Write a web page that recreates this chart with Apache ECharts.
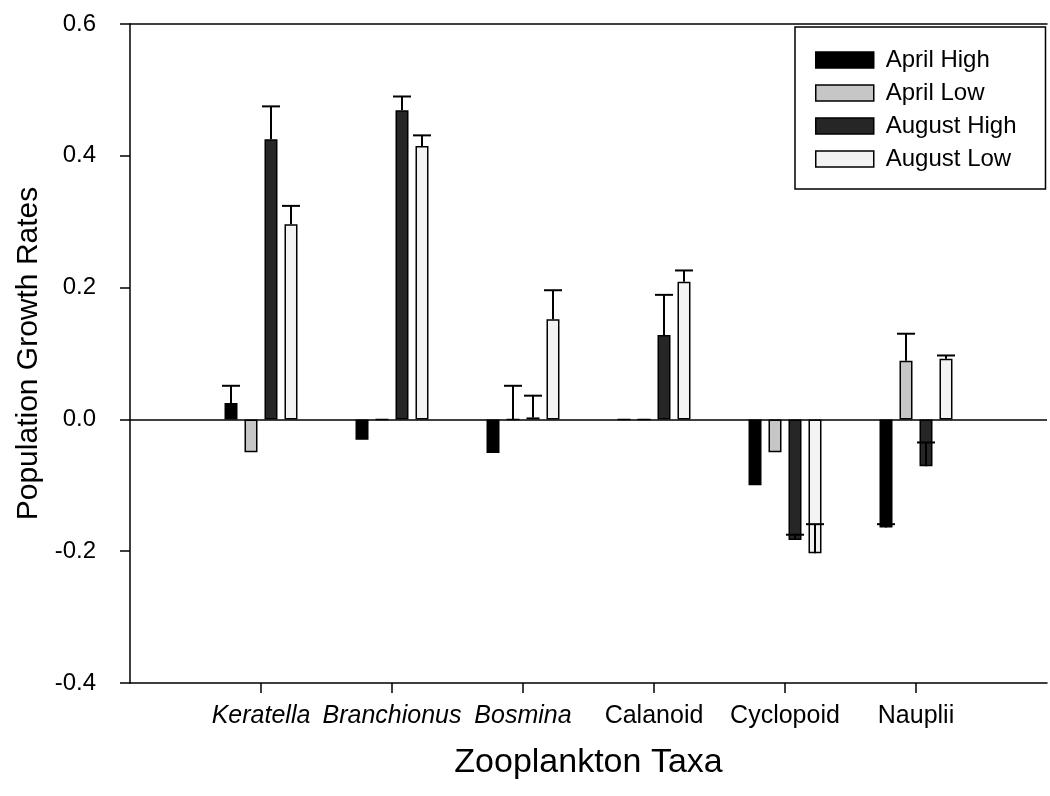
<!DOCTYPE html>
<html><head><meta charset="utf-8">
<script src="https://cdn.jsdelivr.net/npm/echarts@6/dist/echarts.min.js"></script>
<style>html,body{margin:0;padding:0;background:#fff}#c{width:1050px;height:796px}</style>
</head><body><div id="c"></div><script>
// ---- data ----
const taxa = ['Keratella', 'Branchionus', 'Bosmina', 'Calanoid', 'Cyclopoid', 'Nauplii'];
const italicTaxa = ['Keratella', 'Branchionus', 'Bosmina'];
const seriesNames = ['April High', 'April Low', 'August High', 'August Low'];
const aprilHigh  = [0.025, -0.031, -0.051, 0.000, -0.100, -0.164];
const aprilLow   = [-0.050, 0.000, 0.000, 0.000, -0.050, 0.089];
const augustHigh = [0.425, 0.469, 0.003, 0.128, -0.183, -0.071];
const augustLow  = [0.296, 0.415, 0.152, 0.209, -0.203, 0.092];
const aprilHighErr  = [0.026, 0, 0, 0, 0, 0.005];
const aprilLowErr   = [0, 0, 0.051, 0, 0, 0.041];
const augustHighErr = [0.050, 0.021, 0.033, 0.061, 0.008, 0.036];
const augustLowErr  = [0.028, 0.016, 0.044, 0.017, 0.044, 0.005];
const yTickLabels = ['-0.4', '-0.2', '0.0', '0.2', '0.4', '0.6'];

// ---- styling ----
const FONT = 'Liberation Sans, Arial, sans-serif';
const BAR_W = 13, BAR_GAP = 7;
const fills = ['#000000', '#c6c6c6', '#262626', '#f3f3f3'];
const values = [aprilHigh, aprilLow, augustHigh, augustLow];
const errs = [aprilHighErr, aprilLowErr, augustHighErr, augustLowErr];
const cats = [''].concat(taxa, ['']);

const barSeries = seriesNames.map((name, s) => ({
  name: name,
  type: 'bar',
  barWidth: BAR_W,
  barGap: (BAR_GAP / BAR_W * 100).toFixed(1) + '%',
  data: [null].concat(values[s], [null]),
  itemStyle: { color: fills[s], borderColor: '#000', borderWidth: 1.5 },
  z: 3,
  markLine: s === 0 ? {
    silent: true, symbol: 'none', label: { show: false },
    lineStyle: { color: '#000', width: 1.5, type: 'solid' },
    data: [{ yAxis: 0 }]
  } : undefined
}));

const errData = [];
for (let s = 0; s < 4; s++) {
  for (let i = 0; i < taxa.length; i++) {
    if (errs[s][i] > 0) errData.push([i + 1, s, values[s][i], errs[s][i]]);
  }
}

const errSeries = {
  type: 'custom',
  name: 'err',
  z: 5,
  silent: true,
  data: errData,
  encode: { x: 0, y: 2 },
  renderItem: function (params, api) {
    const cat = api.value(0), s = api.value(1), v = api.value(2), e = api.value(3);
    const off = (s - 1.5) * (BAR_W + BAR_GAP);
    const p0 = api.coord([cat, v]);
    const p1 = api.coord([cat, v + e]);
    const x = p0[0] + off;
    const half = 9;
    return {
      type: 'group',
      children: [
        { type: 'line', shape: { x1: x, y1: p0[1], x2: x, y2: p1[1] }, style: { stroke: '#000', lineWidth: 2 } },
        { type: 'line', shape: { x1: x - half, y1: p1[1], x2: x + half, y2: p1[1] }, style: { stroke: '#000', lineWidth: 2 } }
      ]
    };
  }
};

const chart = echarts.init(document.getElementById('c'), null, { renderer: 'canvas' });
chart.setOption({
  backgroundColor: '#fff',
  animation: false,
  textStyle: { fontFamily: FONT, color: '#000' },
  grid: { left: 130, top: 24, width: 924, height: 659, containLabel: false },
  legend: {
    data: seriesNames,
    orient: 'vertical',
    left: 795, top: 27,
    itemWidth: 58, itemHeight: 16, itemGap: 9,
    padding: [21, 29, 18, 20],
    backgroundColor: '#fff',
    borderColor: '#000', borderWidth: 1.5, borderRadius: 0,
    icon: 'rect',
    itemStyle: { borderColor: '#000', borderWidth: 1.5 },
    textStyle: { fontFamily: FONT, fontSize: 24, color: '#000', lineHeight: 24, padding: [0, 0, 0, 7] },
    selectedMode: false
  },
  xAxis: [{
    type: 'category',
    data: cats,
    boundaryGap: false,
    position: 'bottom',
    axisLine: { show: true, onZero: false, lineStyle: { color: '#000', width: 1.5 } },
    axisTick: { show: true, inside: false, length: 10, lineStyle: { color: '#000', width: 1.5 },
      interval: function (idx) { return idx > 0 && idx < cats.length - 1; } },
    axisLabel: {
      interval: 0, margin: 21, fontSize: 25, color: '#000', fontFamily: FONT,
      formatter: function (v) { return italicTaxa.indexOf(v) >= 0 ? '{it|' + v + '}' : v; },
      rich: { it: { fontStyle: 'italic', fontSize: 25, fontFamily: FONT, color: '#000' } }
    },
    splitLine: { show: false },
    name: 'Zooplankton Taxa', nameLocation: 'middle', nameGap: 63,
    nameTextStyle: { fontSize: 34, color: '#000', fontFamily: FONT }
  }, {
    type: 'category',
    data: cats,
    boundaryGap: false,
    position: 'top',
    axisLine: { show: true, onZero: false, lineStyle: { color: '#000', width: 1.5 } },
    axisTick: { show: false }, axisLabel: { show: false }, splitLine: { show: false }
  }],
  yAxis: {
    type: 'value',
    min: -0.4, max: 0.6, interval: 0.2,
    axisLine: { show: true, lineStyle: { color: '#000', width: 1.5 } },
    axisTick: { show: true, inside: false, length: 10, lineStyle: { color: '#000', width: 1.5 } },
    axisLabel: { margin: 34, fontSize: 24, color: '#000', fontFamily: FONT,
      formatter: function (v) { return yTickLabels[Math.round((v + 0.4) / 0.2)]; } },
    splitLine: { show: false },
    name: 'Population Growth Rates', nameLocation: 'middle', nameGap: 86,
    nameTextStyle: { fontSize: 30, color: '#000', fontFamily: FONT }
  },
  series: barSeries.concat([errSeries])
});
</script></body></html>
